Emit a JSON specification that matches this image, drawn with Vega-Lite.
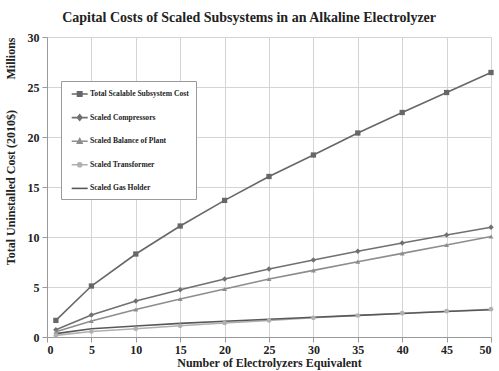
{
  "$schema": "https://vega.github.io/schema/vega-lite/v6.json",
  "width": 444,
  "height": 300,
  "autosize": {"type": "none"},
  "padding": {"left": 47, "top": 37, "right": 8, "bottom": 34},
  "background": "white",
  "title": {
    "text": "Capital Costs of Scaled Subsystems in an Alkaline Electrolyzer",
    "font": "Liberation Serif",
    "fontSize": 14,
    "fontWeight": "bold",
    "color": "#222",
    "anchor": "middle",
    "frame": "bounds",
    "offset": 6
  },
  "config": {
    "view": {"stroke": "#d4d4d4"},
    "axis": {
      "labelFont": "Liberation Serif",
      "labelFontWeight": "bold",
      "labelFontSize": 12,
      "labelColor": "#222",
      "titleFont": "Liberation Serif",
      "titleFontWeight": "bold",
      "titleFontSize": 12,
      "titleColor": "#222",
      "gridColor": "#d4d4d4",
      "gridWidth": 1,
      "domainColor": "#9a9a9a",
      "tickColor": "#9a9a9a",
      "tickSize": 5
    }
  },
  "data": {
    "values": [
      {"n": 1, "series": "Total Scalable Subsystem Cost", "cost": 1.66},
      {"n": 5, "series": "Total Scalable Subsystem Cost", "cost": 5.1},
      {"n": 10, "series": "Total Scalable Subsystem Cost", "cost": 8.3},
      {"n": 15, "series": "Total Scalable Subsystem Cost", "cost": 11.1},
      {"n": 20, "series": "Total Scalable Subsystem Cost", "cost": 13.66},
      {"n": 25, "series": "Total Scalable Subsystem Cost", "cost": 16.05},
      {"n": 30, "series": "Total Scalable Subsystem Cost", "cost": 18.2},
      {"n": 35, "series": "Total Scalable Subsystem Cost", "cost": 20.4},
      {"n": 40, "series": "Total Scalable Subsystem Cost", "cost": 22.45},
      {"n": 45, "series": "Total Scalable Subsystem Cost", "cost": 24.45},
      {"n": 50, "series": "Total Scalable Subsystem Cost", "cost": 26.45},
      {"n": 1, "series": "Scaled Compressors", "cost": 0.72},
      {"n": 5, "series": "Scaled Compressors", "cost": 2.2},
      {"n": 10, "series": "Scaled Compressors", "cost": 3.6},
      {"n": 15, "series": "Scaled Compressors", "cost": 4.73},
      {"n": 20, "series": "Scaled Compressors", "cost": 5.8},
      {"n": 25, "series": "Scaled Compressors", "cost": 6.8},
      {"n": 30, "series": "Scaled Compressors", "cost": 7.7},
      {"n": 35, "series": "Scaled Compressors", "cost": 8.57},
      {"n": 40, "series": "Scaled Compressors", "cost": 9.4},
      {"n": 45, "series": "Scaled Compressors", "cost": 10.2},
      {"n": 50, "series": "Scaled Compressors", "cost": 10.97},
      {"n": 1, "series": "Scaled Balance of Plant", "cost": 0.52},
      {"n": 5, "series": "Scaled Balance of Plant", "cost": 1.6},
      {"n": 10, "series": "Scaled Balance of Plant", "cost": 2.75},
      {"n": 15, "series": "Scaled Balance of Plant", "cost": 3.8},
      {"n": 20, "series": "Scaled Balance of Plant", "cost": 4.8},
      {"n": 25, "series": "Scaled Balance of Plant", "cost": 5.8},
      {"n": 30, "series": "Scaled Balance of Plant", "cost": 6.66},
      {"n": 35, "series": "Scaled Balance of Plant", "cost": 7.53},
      {"n": 40, "series": "Scaled Balance of Plant", "cost": 8.36},
      {"n": 45, "series": "Scaled Balance of Plant", "cost": 9.2},
      {"n": 50, "series": "Scaled Balance of Plant", "cost": 10.05},
      {"n": 1, "series": "Scaled Transformer", "cost": 0.16},
      {"n": 5, "series": "Scaled Transformer", "cost": 0.55},
      {"n": 10, "series": "Scaled Transformer", "cost": 0.82},
      {"n": 15, "series": "Scaled Transformer", "cost": 1.12},
      {"n": 20, "series": "Scaled Transformer", "cost": 1.4},
      {"n": 25, "series": "Scaled Transformer", "cost": 1.65},
      {"n": 30, "series": "Scaled Transformer", "cost": 1.92},
      {"n": 35, "series": "Scaled Transformer", "cost": 2.15},
      {"n": 40, "series": "Scaled Transformer", "cost": 2.38},
      {"n": 45, "series": "Scaled Transformer", "cost": 2.58},
      {"n": 50, "series": "Scaled Transformer", "cost": 2.78},
      {"n": 1, "series": "Scaled Gas Holder", "cost": 0.34},
      {"n": 5, "series": "Scaled Gas Holder", "cost": 0.82},
      {"n": 10, "series": "Scaled Gas Holder", "cost": 1.1},
      {"n": 15, "series": "Scaled Gas Holder", "cost": 1.36},
      {"n": 20, "series": "Scaled Gas Holder", "cost": 1.58},
      {"n": 25, "series": "Scaled Gas Holder", "cost": 1.78},
      {"n": 30, "series": "Scaled Gas Holder", "cost": 1.97},
      {"n": 35, "series": "Scaled Gas Holder", "cost": 2.16},
      {"n": 40, "series": "Scaled Gas Holder", "cost": 2.35},
      {"n": 45, "series": "Scaled Gas Holder", "cost": 2.55},
      {"n": 50, "series": "Scaled Gas Holder", "cost": 2.72}
    ]
  },
  "layer": [
    {
      "encoding": {
        "x": {
          "field": "n",
          "type": "quantitative",
          "scale": {"domain": [0, 50], "nice": false},
          "axis": {
            "values": [0, 5, 10, 15, 20, 25, 30, 35, 40, 45, 50],
            "title": "Number of Electrolyzers Equivalent",
            "labelPadding": 2,
            "titlePadding": 2
          }
        },
        "y": {
          "field": "cost",
          "type": "quantitative",
          "scale": {"domain": [0, 30], "nice": false},
          "axis": {
            "values": [0, 5, 10, 15, 20, 25, 30],
            "title": "Total Uninstalled Cost (2010$)",
            "labelPadding": 3,
            "titleX": -30
          }
        }
      },
      "layer": [
        {
          "mark": {"type": "line", "strokeWidth": 1.6},
          "encoding": {
            "color": {
              "field": "series",
              "type": "nominal",
              "scale": {
                "domain": ["Total Scalable Subsystem Cost", "Scaled Compressors", "Scaled Balance of Plant", "Scaled Transformer", "Scaled Gas Holder"],
                "range": ["#676767", "#707070", "#8d8d8d", "#b0b0b0", "#585858"]
              },
              "legend": {
                "title": null,
                "orient": "none",
                "legendX": 14,
                "legendY": 44,
                "direction": "vertical",
                "fillColor": "white",
                "strokeColor": "#9a9a9a",
                "padding": 7,
                "rowPadding": 11.6,
                "labelFont": "Liberation Serif",
                "labelFontWeight": "bold",
                "labelFontSize": 7.6,
                "labelColor": "#222",
                "labelOffset": 10,
                "symbolSize": 100,
                "symbolStrokeWidth": 1.6,
                "symbolOpacity": 1,
                "encode": {
                  "symbols": {
                    "update": {
                      "shape": {"signal": "datum.value == 'Total Scalable Subsystem Cost' ? 'M-0.46,0H2.74M0.7,-0.44H1.58V0.44H0.7Z' : datum.value == 'Scaled Compressors' ? 'M-0.46,0H2.74M1.14,-0.55L1.6,0L1.14,0.55L0.68,0Z' : datum.value == 'Scaled Balance of Plant' ? 'M-0.46,0H2.74M1.14,-0.5L1.6,0.4H0.68Z' : datum.value == 'Scaled Transformer' ? 'M-0.46,0H2.74M1.54,0A0.4,0.4,0,1,1,0.74,0A0.4,0.4,0,1,1,1.54,0Z' : 'M-0.46,0H2.74'"},
                      "fill": {"signal": "scale('color', datum.value)"},
                      "stroke": {"signal": "scale('color', datum.value)"},
                      "strokeWidth": {"value": 1.6}
                    }
                  }
                }
              }
            }
          }
        },
        {
          "transform": [{"filter": "datum.series == 'Total Scalable Subsystem Cost'"}],
          "mark": {"type": "point", "filled": true, "opacity": 1, "shape": "square", "size": 28, "color": "#676767"}
        },
        {
          "transform": [{"filter": "datum.series == 'Scaled Compressors'"}],
          "mark": {"type": "point", "filled": true, "opacity": 1, "shape": "diamond", "size": 30, "color": "#707070"}
        },
        {
          "transform": [{"filter": "datum.series == 'Scaled Balance of Plant'"}],
          "mark": {"type": "point", "filled": true, "opacity": 1, "shape": "triangle-up", "size": 24, "color": "#8d8d8d"}
        },
        {
          "transform": [{"filter": "datum.series == 'Scaled Transformer'"}],
          "mark": {"type": "point", "filled": true, "opacity": 1, "shape": "circle", "size": 22, "color": "#b0b0b0"}
        }
      ]
    },
    {
      "mark": {"type": "text"},
      "encoding": {
        "y": {
          "datum": 0,
          "type": "quantitative",
          "scale": {"domain": [0, 30], "nice": false},
          "axis": {
            "orient": "left",
            "title": "Millions",
            "titleAnchor": "end",
            "labels": false,
            "ticks": false,
            "domain": false,
            "grid": false,
            "titleX": -30
          }
        },
        "text": {"value": ""}
      }
    }
  ],
  "resolve": {"scale": {"y": "independent"}}
}
